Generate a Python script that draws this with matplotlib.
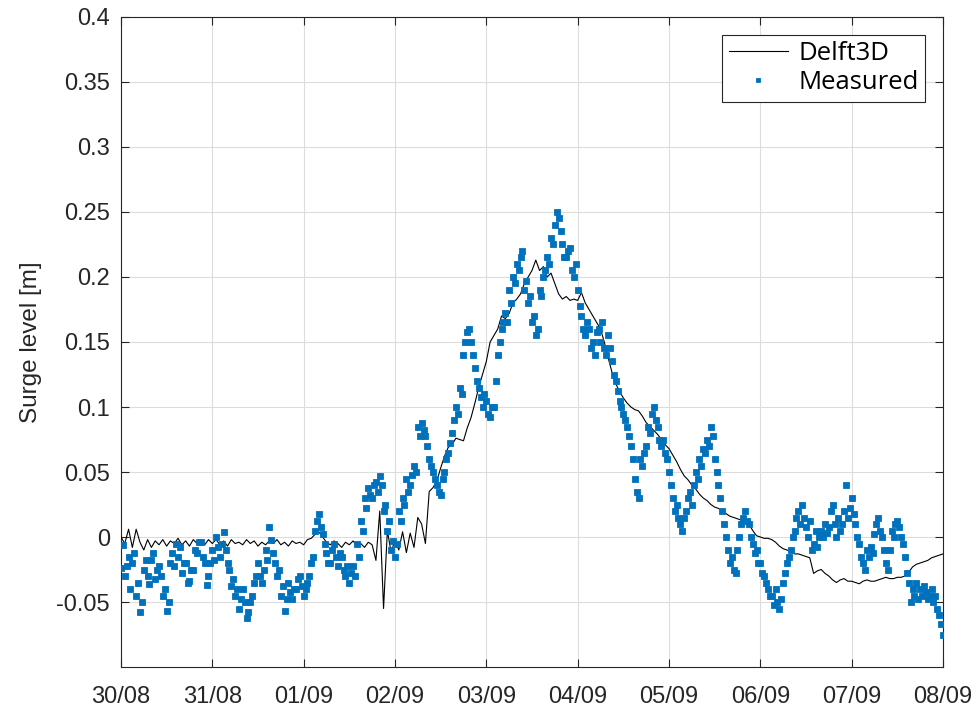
import matplotlib
matplotlib.use("Agg")
import matplotlib.pyplot as plt
import numpy as np

# Day labels on the time axis (one tick per day)
tick_labels = ["30/08", "31/08", "01/09", "02/09", "03/09",
               "04/09", "05/09", "06/09", "07/09", "08/09"]

# Modelled surge (Delft3D), hourly values [m]
delft3d = [
    0.0, -0.005, 0.006, -0.008, 0.006, -0.004, -0.01, -0.002, -0.008, -0.003, -0.006, -0.002,
    -0.007, -0.003, -0.005, -0.001, -0.006, -0.003, -0.007, -0.002, -0.005, -0.003, -0.006, -0.002,
    -0.005, -0.002, -0.006, -0.003, -0.007, -0.002, -0.005, -0.004, -0.006, -0.002, -0.005, -0.003,
    -0.007, -0.004, -0.006, -0.003, -0.005, -0.002, -0.006, -0.004, -0.007, -0.003, -0.005, -0.004,
    -0.006, -0.002, -0.001, 0.002, 0.004, 0.0, -0.004, -0.006, -0.003, -0.005, -0.008, -0.004,
    -0.006, -0.003, -0.007, -0.005, -0.008, -0.004, -0.006, -0.018, 0.02, -0.055, 0.005, -0.012,
    -0.002, -0.01, 0.004, -0.012, 0.003, -0.008, 0.015, 0.01, -0.005, 0.035, 0.038, 0.043,
    0.053, 0.062, 0.069, 0.071, 0.076, 0.075, 0.074, 0.084, 0.092, 0.103, 0.115, 0.125,
    0.135, 0.15, 0.155, 0.16, 0.17, 0.168, 0.172, 0.18, 0.183, 0.187, 0.195, 0.2,
    0.205, 0.213, 0.205, 0.208, 0.2, 0.203, 0.195, 0.187, 0.183, 0.185, 0.182, 0.183,
    0.182, 0.188, 0.18, 0.175, 0.17, 0.165, 0.16, 0.15, 0.138, 0.127, 0.118, 0.112,
    0.107, 0.103, 0.1, 0.098, 0.097, 0.093, 0.088, 0.085, 0.082, 0.079, 0.075, 0.071,
    0.068, 0.063, 0.058, 0.052, 0.047, 0.044, 0.04, 0.037, 0.033, 0.03, 0.028, 0.025,
    0.023, 0.022, 0.02, 0.018, 0.016, 0.015, 0.014, 0.013, 0.011, 0.01, 0.005, 0.001,
    0.0, -0.001, -0.001, -0.002, -0.004, -0.007, -0.009, -0.01, -0.011, -0.013, -0.013, -0.014,
    -0.015, -0.016, -0.028, -0.026, -0.025, -0.028, -0.03, -0.033, -0.035, -0.033, -0.032, -0.034,
    -0.034, -0.035, -0.036, -0.034, -0.033, -0.034, -0.034, -0.033, -0.032, -0.031, -0.032, -0.032,
    -0.031, -0.031, -0.03, -0.027, -0.023, -0.021, -0.02, -0.019, -0.018, -0.016, -0.015, -0.014,
    -0.013,
]

# Measured surge at the gauge, half-hourly values [m] (one row = 6 hours)
measured = [
    -0.024, -0.006, -0.03, -0.022, -0.015, -0.04, -0.02, -0.012, -0.045, -0.035, -0.058, -0.05,
    -0.025, -0.018, -0.03, -0.036, -0.018, -0.012, -0.032, -0.025, -0.022, -0.03, -0.045, -0.04,
    -0.057, -0.05, -0.02, -0.012, -0.022, -0.005, -0.015, -0.008, -0.028, -0.02, -0.02, -0.035,
    -0.034, -0.025, -0.025, -0.01, -0.012, -0.004, -0.004, -0.015, -0.02, -0.037, -0.03, -0.02,
    -0.01, -0.018, 0.0, -0.008, -0.015, -0.005, 0.004, -0.01, -0.02, -0.025, -0.038, -0.032,
    -0.045, -0.04, -0.055, -0.048, -0.04, -0.05, -0.062, -0.058, -0.05, -0.045, -0.035, -0.03,
    -0.02, -0.03, -0.035, -0.025, -0.01, -0.018, 0.008, -0.002, -0.012, -0.02, -0.03, -0.025,
    -0.045, -0.038, -0.057, -0.048, -0.035, -0.042, -0.048, -0.04, -0.04, -0.032, -0.03, -0.038,
    -0.045, -0.04, -0.035, -0.03, -0.02, -0.015, 0.005, 0.012, 0.018, 0.008, 0.002, -0.005,
    -0.012, -0.02, -0.02, -0.01, -0.005, -0.015, -0.022, -0.012, -0.015, -0.025, -0.03, -0.022,
    -0.035, -0.028, -0.022, -0.03, -0.005, -0.015, 0.012, 0.005, 0.03, 0.022, 0.038, 0.032,
    0.03, 0.04, 0.042, 0.035, 0.047, 0.04, 0.02, 0.025, 0.005, 0.012, -0.01, -0.003,
    -0.015, -0.005, 0.02, 0.012, 0.03, 0.025, 0.045, 0.035, 0.04, 0.048, 0.055, 0.05,
    0.085, 0.078, 0.088, 0.082, 0.078, 0.07, 0.06, 0.055, 0.05, 0.045, 0.04, 0.035,
    0.032, 0.045, 0.05, 0.06, 0.065, 0.072, 0.08, 0.09, 0.1, 0.095, 0.115, 0.11,
    0.14, 0.15, 0.158, 0.16, 0.15, 0.14, 0.13, 0.12, 0.115, 0.108, 0.1, 0.11,
    0.105, 0.095, 0.092, 0.1, 0.1, 0.12, 0.14, 0.15, 0.16, 0.165, 0.172, 0.165,
    0.19, 0.18, 0.2, 0.195, 0.21, 0.205, 0.215, 0.22, 0.19, 0.197, 0.18, 0.185,
    0.165, 0.17, 0.155, 0.16, 0.19, 0.185, 0.2, 0.205, 0.215, 0.21, 0.23, 0.225,
    0.24, 0.25, 0.245, 0.235, 0.225, 0.215, 0.215, 0.22, 0.222, 0.205, 0.2, 0.21,
    0.19, 0.178, 0.17, 0.16, 0.155, 0.165, 0.16, 0.145, 0.15, 0.14, 0.158, 0.16,
    0.15, 0.165, 0.145, 0.14, 0.155, 0.145, 0.135, 0.125, 0.12, 0.112, 0.105, 0.1,
    0.095, 0.09, 0.085, 0.078, 0.07, 0.06, 0.045, 0.035, 0.03, 0.06, 0.055, 0.065,
    0.07, 0.085, 0.08, 0.095, 0.1, 0.09, 0.085, 0.075, 0.07, 0.075, 0.065, 0.06,
    0.05, 0.04, 0.03, 0.02, 0.025, 0.015, 0.01, 0.005, 0.015, 0.02, 0.03, 0.035,
    0.025, 0.04, 0.05, 0.045, 0.06, 0.055, 0.068, 0.065, 0.075, 0.07, 0.085, 0.078,
    0.06, 0.05, 0.04, 0.03, 0.02, 0.01, 0.0, -0.01, -0.02, -0.015, -0.025, -0.028,
    -0.01, 0.0, 0.01, 0.015, 0.02, 0.012, 0.01, 0.0, -0.005, -0.012, -0.01, -0.02,
    -0.02, -0.028, -0.03, -0.035, -0.04, -0.045, -0.045, -0.052, -0.04, -0.05, -0.055, -0.048,
    -0.035, -0.028, -0.02, -0.015, -0.01, 0.0, 0.005, 0.015, 0.02, 0.01, 0.025, 0.015,
    0.008, 0.0, 0.012, -0.01, -0.005, 0.005, -0.008, 0.0, 0.005, 0.0, 0.01, 0.003,
    0.008, 0.02, 0.025, 0.01, 0.0, 0.015, 0.005, 0.01, 0.02, 0.04, 0.015, 0.022,
    0.03, 0.018, 0.01, 0.0, -0.005, -0.015, -0.02, -0.025, -0.01, -0.015, -0.008, -0.012,
    0.002, 0.01, 0.015, 0.005, 0.0, -0.01, -0.02, -0.025, -0.01, 0.005, 0.0, 0.01,
    0.012, 0.008, 0.0, -0.005, -0.015, -0.028, -0.035, -0.05, -0.04, -0.045, -0.035, -0.048,
    -0.04, -0.045, -0.038, -0.042, -0.048, -0.045, -0.04, -0.05, -0.045, -0.055, -0.06, -0.067,
    -0.075,
]

y_ticks = [-0.05, 0, 0.05, 0.1, 0.15, 0.2, 0.25, 0.3, 0.35, 0.4]
y_tick_labels = ["-0.05", "0", "0.05", "0.1", "0.15", "0.2", "0.25", "0.3", "0.35", "0.4"]

# time in days since 30/08 00:00
t_delft = np.arange(len(delft3d)) / 24.0
t_meas = np.arange(len(measured)) / 48.0

plt.rcParams["font.family"] = ["Liberation Sans", "DejaVu Sans"]
axis_color = "#262626"

fig = plt.figure(figsize=(9.77, 7.08), dpi=100)
ax = fig.add_axes([0.1238, 0.0579, 0.8414, 0.9181])

ax.plot(t_delft, delft3d, color="black", lw=0.8, label="Delft3D", zorder=3)
ax.plot(t_meas, measured, ls="none", marker="s", ms=4.8,
        mfc="#0072BD", mec="#0072BD", mew=0.6, label="Measured", zorder=4)

ax.set_xlim(0, len(tick_labels) - 1)
ax.set_ylim(-0.1, 0.4)
ax.set_xticks(np.arange(len(tick_labels)))
ax.set_xticklabels(tick_labels)
ax.set_yticks(y_ticks)
ax.set_yticklabels(y_tick_labels)

ax.grid(True, color="#dcdcdc", lw=0.8)
ax.set_axisbelow(True)
ax.tick_params(axis="both", direction="in", length=6, width=0.8,
               top=True, right=True, colors=axis_color, labelsize=17)
ax.tick_params(axis="x", pad=14)
ax.tick_params(axis="y", pad=8)
for sp in ax.spines.values():
    sp.set_color(axis_color)
    sp.set_linewidth(0.8)

ax.set_ylabel("Surge level [m]", fontsize=17.5, color=axis_color, labelpad=10)

leg = ax.legend(loc="upper right", frameon=True, fancybox=False, framealpha=1,
                edgecolor=axis_color, prop={"family": "Open Sans", "size": 18.5},
                borderaxespad=0.7, handlelength=2.3, handletextpad=0.4,
                borderpad=0.25, labelspacing=0.15, markerscale=0.7)
leg.get_frame().set_linewidth(0.8)

fig.savefig("out.png", dpi=100)
